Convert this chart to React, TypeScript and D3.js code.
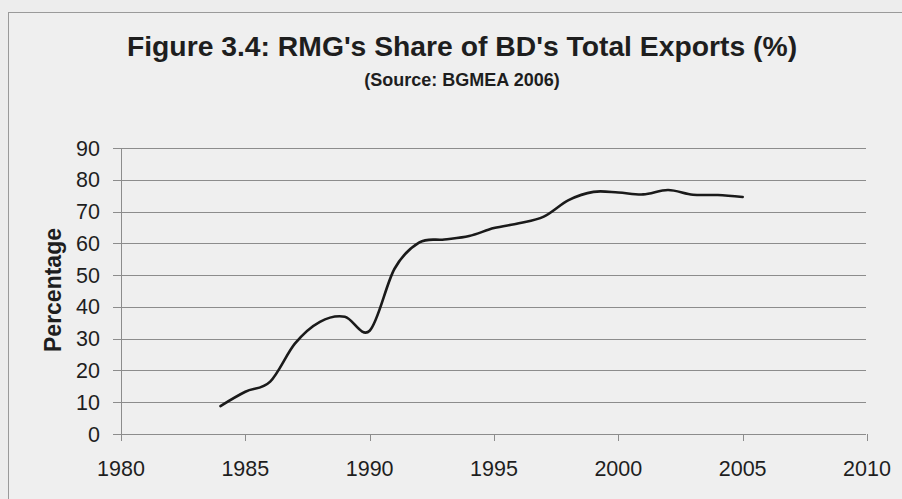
import React from "react";
import * as d3 from "d3";

// RMG share of Bangladesh's total exports, by year (%)
const years = [1984, 1985, 1986, 1987, 1988, 1989, 1990, 1991, 1992, 1993, 1994, 1995, 1996, 1997, 1998, 1999, 2000, 2001, 2002, 2003, 2004, 2005];
const shares = [8.8, 13.3, 16.5, 28.5, 35.3, 36.9, 32.5, 52.0, 60.3, 61.2, 62.3, 64.8, 66.3, 68.4, 73.6, 76.2, 76.0, 75.4, 76.8, 75.3, 75.2, 74.6];

const xTicks = [1980, 1985, 1990, 1995, 2000, 2005, 2010];
const yTicks = [0, 10, 20, 30, 40, 50, 60, 70, 80, 90];

const title = "Figure 3.4: RMG's Share of BD's Total Exports (%)";
const subtitle = "(Source: BGMEA 2006)";
const yTitle = "Percentage";

const W = 902;
const H = 499;
const FONT = "'Liberation Sans', Arial, sans-serif";

export default function App() {
  const x = d3.scaleLinear().domain([1980, 2010]).range([121, 867]);
  const y = d3.scaleLinear().domain([0, 90]).range([434, 148]);

  const points: [number, number][] = years.map((yr, i) => [yr, shares[i]]);
  const line = d3
    .line<[number, number]>()
    .x((d) => x(d[0]))
    .y((d) => y(d[1]))
    .curve(d3.curveCardinal.tension(0));

  const gridColor = "#8c8c8c";
  const textColor = "#1e1e1e";

  return (
    <svg
      width={W}
      height={H}
      style={{ position: "absolute", left: 0, top: 0, background: "#ededed" }}
      fontFamily={FONT}
    >
      <rect x={0} y={0} width={W} height={H} fill="#ededed" />
      {/* chart frame */}
      <rect x={8.5} y={12.5} width={W} height={H} fill="#efefef" stroke="#9a9a9a" strokeWidth={1} />

      <text x={462} y={56} textAnchor="middle" fontSize={28.3} fontWeight="bold" fill={textColor}>
        {title}
      </text>
      <text x={462} y={86} textAnchor="middle" fontSize={18} fontWeight="bold" fill={textColor}>
        {subtitle}
      </text>

      {/* horizontal gridlines with left tick marks */}
      {yTicks.map((t) => (
        <g key={t}>
          <line x1={113} x2={866} y1={Math.round(y(t)) + 0.5} y2={Math.round(y(t)) + 0.5} stroke={gridColor} strokeWidth={1} />
          <text x={100} y={y(t) + 7.5} textAnchor="end" fontSize={21.5} fill={textColor}>
            {t}
          </text>
        </g>
      ))}

      {/* vertical axis */}
      <line x1={121.5} x2={121.5} y1={y(90)} y2={441} stroke={gridColor} strokeWidth={1} />

      {/* x ticks and labels */}
      {xTicks.map((t) => (
        <g key={t}>
          <line x1={Math.round(x(t)) + 0.5} x2={Math.round(x(t)) + 0.5} y1={434} y2={441} stroke={gridColor} strokeWidth={1} />
          <text x={x(t)} y={476} textAnchor="middle" fontSize={21.5} fill={textColor}>
            {t}
          </text>
        </g>
      ))}

      <text
        transform={`translate(61,290) rotate(-90)`}
        textAnchor="middle"
        fontSize={23}
        fontWeight="bold"
        fill={textColor}
      >
        {yTitle}
      </text>

      <path d={line(points) ?? ""} fill="none" stroke="#1a1a1a" strokeWidth={2.6} strokeLinejoin="round" strokeLinecap="round" />
    </svg>
  );
}
